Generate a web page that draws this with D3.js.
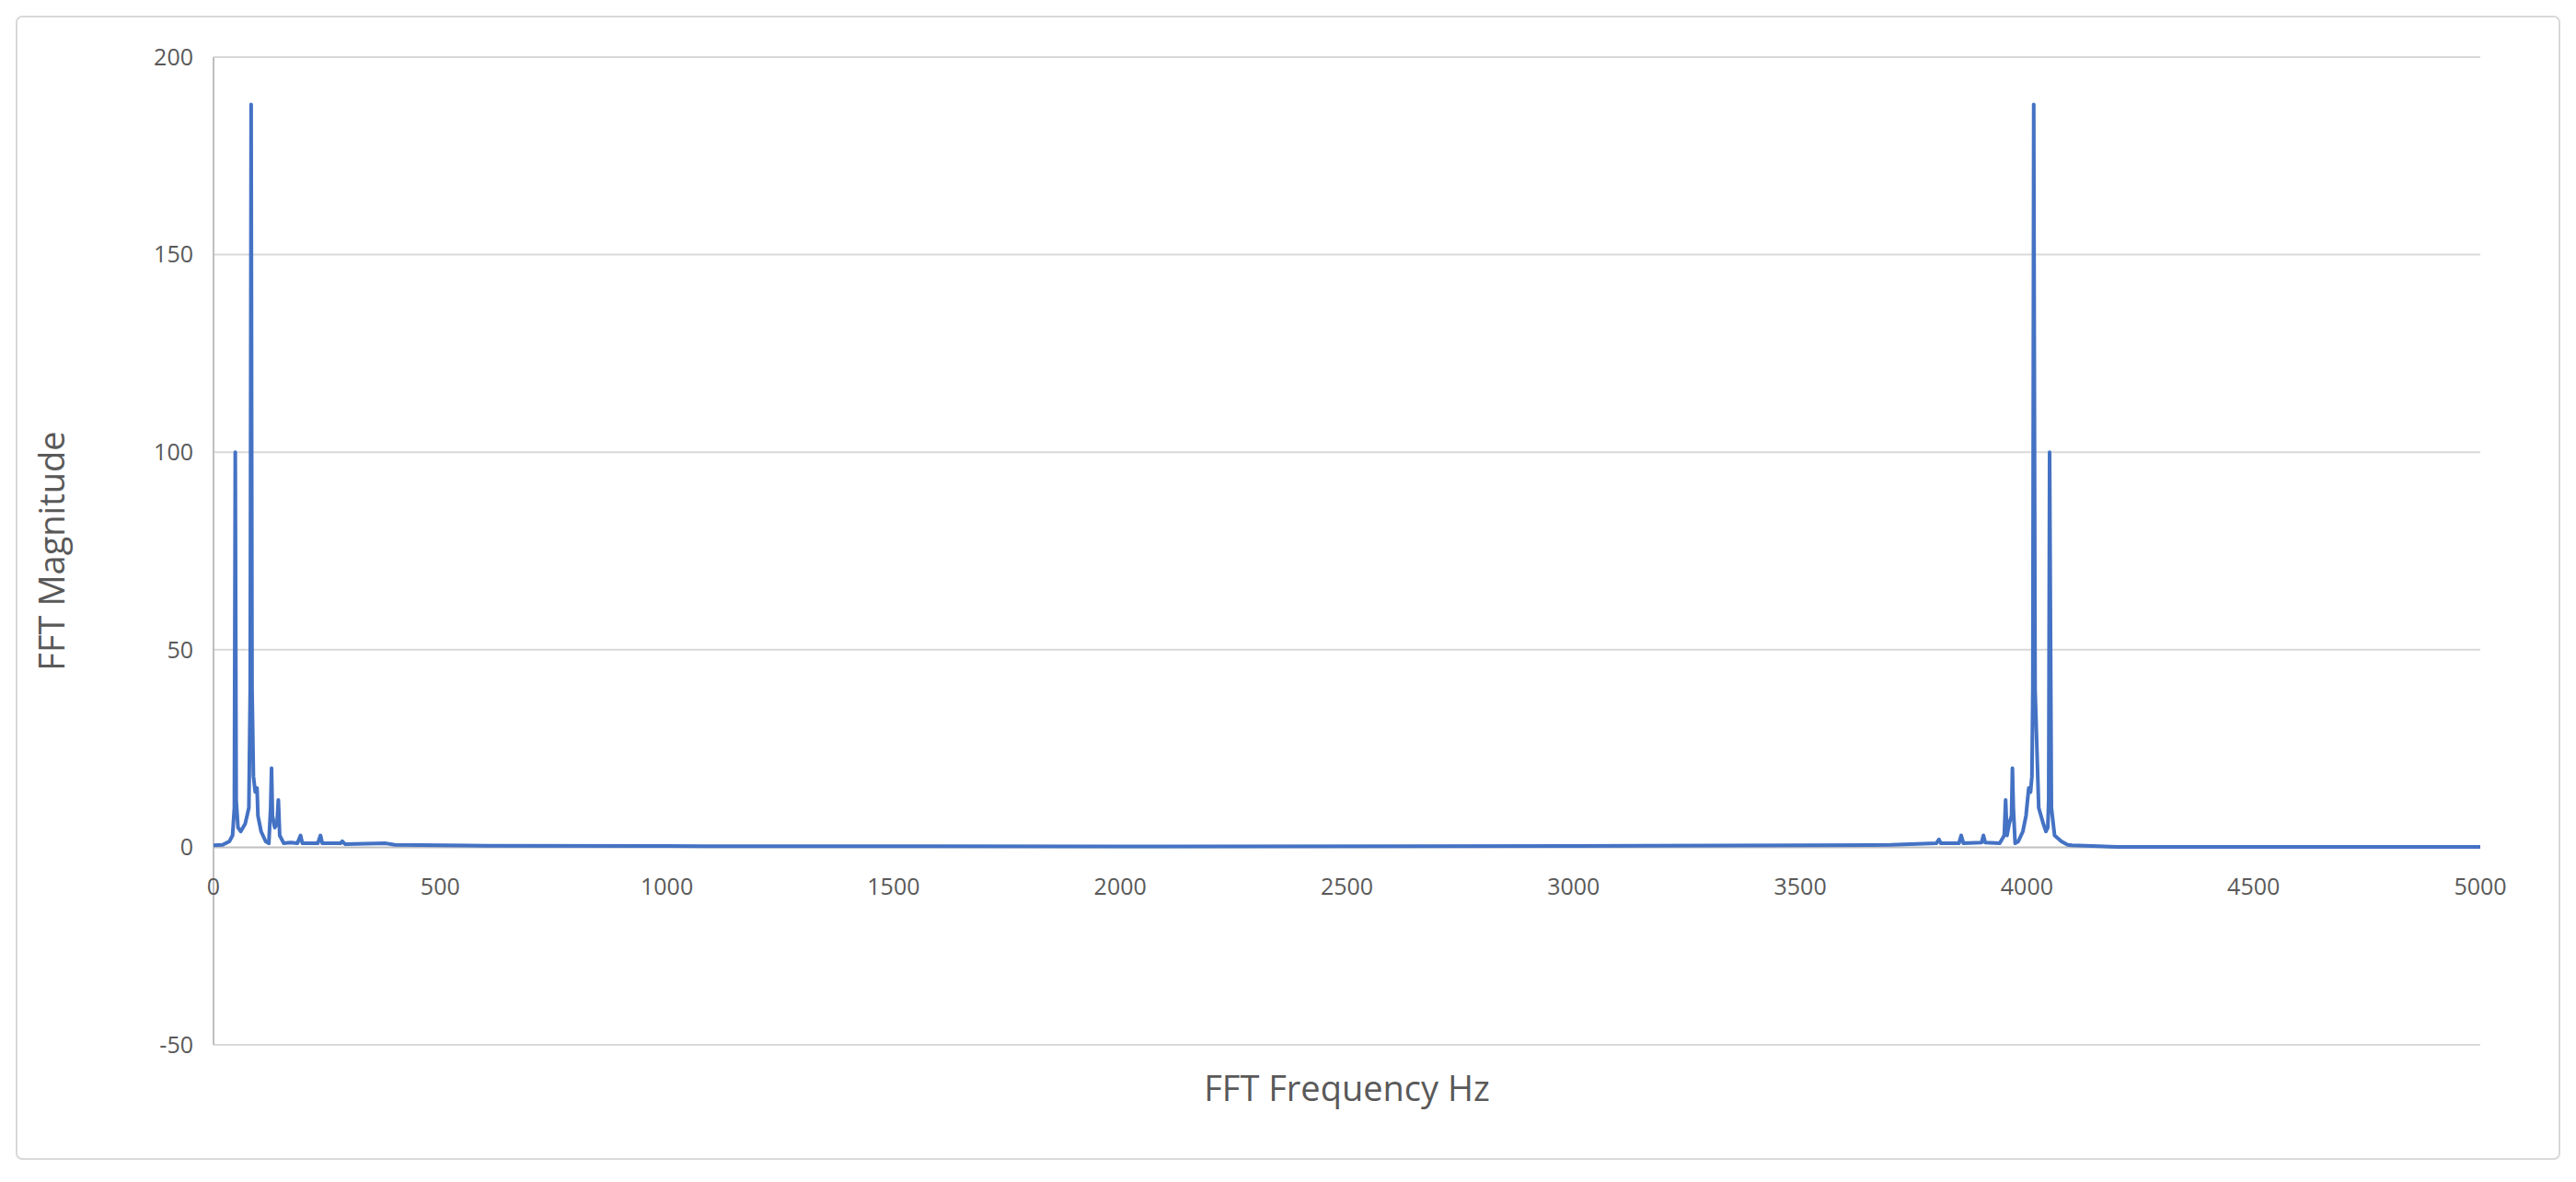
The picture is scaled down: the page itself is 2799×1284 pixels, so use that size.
<!DOCTYPE html>
<html><head><meta charset="utf-8">
<script src="https://cdn.jsdelivr.net/npm/d3@7"></script>
<style>body{margin:0;background:#fff}text{font-family:"Open Sans",sans-serif}</style>
</head><body>
<svg id="chart" width="2799" height="1284"></svg>
<script>
// spectrum (Hz, magnitude)
var freqs = [0,20,35,42,46,48,50,54,60,70,78,81,83,85,88,92,96,98,105,115,122,126,128,130,135,140,143,146,155,170,185,192,196,230,236,240,280,284,290,380,400,600,1000,2000,3000,3500,3700,3800,3806,3810,3850,3855,3860,3900,3904,3908,3940,3950,3953,3956,3961,3966,3968,3970,3974,3981,3991,3998,4004,4008,4011,4013,4015,4018,4026,4036,4042,4046,4048,4050,4054,4061,4076,4090,4100,4200,5000];
var mags  = [0.5,0.6,1.5,3,10,100,12,5,4,6,10,40,188,40,18,14,15,8,4,1.5,1,10,20,8,5,6,12,3,1,1.2,1,3,1,1,3,1,1,1.5,0.8,1,0.6,0.4,0.3,0.2,0.3,0.5,0.6,1,2,1,1,3,1,1.2,3,1.2,1,3,12,3,6,8,20,10,1,1.5,4,8,15,14,18,40,188,40,10,6,4,5,12,100,10,3,1.5,0.6,0.5,0.1,0.1];
var yTicks = [-50,0,50,100,150,200];
var xTicks = [0,500,1000,1500,2000,2500,3000,3500,4000,4500,5000];

var svg = d3.select("#chart");
var mLeft = 232, mRight = 2695, mTop = 62, mBottom = 1135;

svg.append("rect").attr("x",18).attr("y",18).attr("width",2763).attr("height",1241)
  .attr("rx",6).attr("fill","#fff").attr("stroke","#d9d9d9").attr("stroke-width",2);

var x = d3.scaleLinear().domain([0,5000]).range([mLeft,mRight]);
var y = d3.scaleLinear().domain([-50,200]).range([mBottom,mTop]);

// gridlines
svg.append("g").selectAll("line").data(yTicks).enter().append("line")
  .attr("x1",mLeft).attr("x2",mRight).attr("y1",function(d){return y(d);}).attr("y2",function(d){return y(d);})
  .attr("stroke",function(d){return d===0?"#bfbfbf":"#d9d9d9";}).attr("stroke-width",2);
svg.append("line").attr("x1",mLeft).attr("x2",mLeft).attr("y1",mTop).attr("y2",mBottom)
  .attr("stroke","#bfbfbf").attr("stroke-width",2);

// tick labels
svg.append("g").selectAll("text").data(yTicks).enter().append("text")
  .attr("x",mLeft-22).attr("y",function(d){return y(d);}).attr("dy","0.35em")
  .attr("text-anchor","end").attr("font-size",25).attr("fill","#595959").text(function(d){return d;});
svg.append("g").selectAll("text").data(xTicks).enter().append("text")
  .attr("x",function(d){return x(d);}).attr("y",y(0)+52)
  .attr("text-anchor","middle").attr("font-size",25).attr("fill","#595959").text(function(d){return d;});

// the spectrum
var line = d3.line().x(function(d){return x(d[0]);}).y(function(d){return y(d[1]);});
svg.append("path").datum(d3.zip(freqs,mags)).attr("d",line)
  .attr("fill","none").attr("stroke","#4472C4").attr("stroke-width",4).attr("stroke-linejoin","round");

// axis titles
svg.append("text").attr("x",(mLeft+mRight)/2).attr("y",1196).attr("text-anchor","middle")
  .attr("font-size",38).attr("fill","#595959").text("FFT Frequency Hz");
svg.append("text").attr("transform","translate(70,"+((mTop+mBottom)/2)+") rotate(-90)")
  .attr("text-anchor","middle").attr("font-size",38).attr("fill","#595959").text("FFT Magnitude");
</script>
</body></html>
